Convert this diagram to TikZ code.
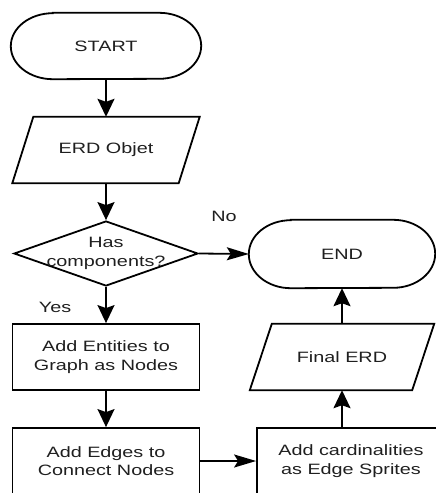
\documentclass[tikz,border=0pt]{standalone}
\usepackage{fontspec}
\setmainfont{Liberation Sans}[FakeStretch=1.32]
\usetikzlibrary{arrows.meta,shapes.geometric}

% stadium outline around a (plain) node: node name, end x radius, end y radius
\newcommand{\termoutline}[3]{%
  \draw[outline] ([xshift=#2]#1.north west) -- ([xshift=-#2]#1.north east)
    arc[start angle=90,end angle=-90,x radius=#2,y radius=#3]
    -- ([xshift=#2]#1.south west)
    arc[start angle=270,end angle=90,x radius=#2,y radius=#3] -- cycle;}
% parallelogram outline around a (plain) node: node name, slant offset
\newcommand{\iooutline}[2]{%
  \draw[outline] ([xshift=#2]#1.north west) -- (#1.north east)
    -- ([xshift=-#2]#1.south east) -- (#1.south west) -- cycle;}

\begin{document}
\begin{tikzpicture}[x=1pt,y=-1pt,
  font=\fontsize{15}{18.5}\selectfont,
  every node/.style={text=black!88},
  outline/.style={line width=1.8pt, draw=black},
  plain/.style={inner sep=0pt, align=center},
  procbox/.style={plain, outline, minimum width=187pt, minimum height=66pt},
  decision/.style={shape=diamond, outline, inner sep=0pt,
    minimum width=184pt, minimum height=65pt},
  varr/.style={line width=1.8pt, -{Stealth[length=18pt,width=17pt,inset=3pt]}},
  harr/.style={line width=1.8pt, -{Stealth[length=22pt,width=13pt,inset=4pt]}},
]
\useasboundingbox (0,0) rectangle (436,493);
\clip (0,0) rectangle (436,493);

% left column
\node[plain, minimum width=190pt, minimum height=66pt] (start) at (106,46) {START};
\termoutline{start}{42pt}{33pt}

\node[plain, minimum width=187pt, minimum height=66pt] (erd) at (106,150) {ERD Objet};
\iooutline{erd}{21pt}

\node[decision] (dec) at (106,253.5) {};
\node[plain] (dectext) at (dec.center) {Has\\components?};

\node[procbox] (ent) at (106,357) {Add Entities to\\Graph as Nodes};
\node[procbox] (edg) at (106,461) {Add Edges to\\Connect Nodes};

% right column
\node[plain, minimum width=186pt, minimum height=68pt] (end) at (342,254) {END};
\termoutline{end}{42pt}{34pt}

\node[plain, minimum width=184pt, minimum height=66pt] (fin) at (342,357) {Final ERD};
\iooutline{fin}{22pt}

\node[procbox, minimum width=188pt] (card) at (351,461) {Add cardinalities\\as Edge Sprites};

% branch labels
\node[plain] (nolbl) at (224,216) {No};
\node[plain] (yeslbl) at (55,307) {Yes};

% connectors
\draw[varr] (start.south) -- (erd.north);
\draw[varr] (erd.south) -- (dec.north);
\draw[harr] (dec.east) -- (end.west);
\draw[varr] (dec.south) -- (ent.north);
\draw[varr] (ent.south) -- (edg.north);
\draw[harr] (edg.east) -- (card.west);
\draw[varr] (card.north -| fin.south) -- (fin.south);
\draw[varr] (fin.north) -- (end.south);
\end{tikzpicture}
\end{document}
